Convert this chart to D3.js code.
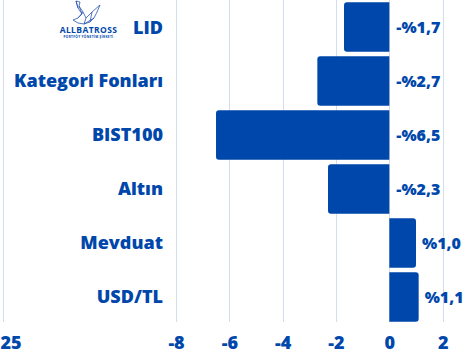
<!DOCTYPE html>
<html>
<head>
<meta charset="utf-8">
<script src="https://cdn.jsdelivr.net/npm/d3@7/dist/d3.min.js"></script>
<style>
  html, body { margin: 0; padding: 0; background: #ffffff; }
  svg { display: block; }
  text { font-family: "Open Sans", "DejaVu Sans", sans-serif; font-weight: 800; fill: #0047ab; }
</style>
</head>
<body>
<svg id="chart" width="472" height="356"></svg>
<script>
// Returns by asset class (%)
const categories = ["LID", "Kategori Fonları", "BIST100", "Altın", "Mevduat", "USD/TL"];
const returns = [-1.7, -2.7, -6.5, -2.3, 1.0, 1.1];
const valueLabels = ["-%1,7", "-%2,7", "-%6,5", "-%2,3", "%1,0", "%1,1"];
const tickValues = [-14.5, -8, -6, -4, -2, 0, 2];
const tickLabels = ["25", "-8", "-6", "-4", "-2", "0", "2"];

const BLUE = "#0047ab";
const GRID = "#d3ddf0";
const svg = d3.select("#chart");

const x = d3.scaleLinear().domain([-14.5, 2.5]).range([2.7, 456]);
const y = d3.scaleBand().domain(categories).range([0, 324]).paddingInner(0.083).paddingOuter(0.042);

// vertical gridlines
const gridBottom = 322;
svg.append("g").selectAll("line").data(tickValues).join("line")
  .attr("x1", d => Math.round(x(d)) + 0.5).attr("x2", d => Math.round(x(d)) + 0.5)
  .attr("y1", 0).attr("y2", gridBottom)
  .attr("stroke", GRID).attr("stroke-width", 1);

// x axis labels
const axis = d3.axisBottom(x).tickValues(tickValues).tickSize(0).tickPadding(0)
  .tickFormat((d, i) => tickLabels[i]);
const gAxis = svg.append("g").attr("transform", "translate(0,332)").call(axis);
gAxis.select(".domain").remove();
gAxis.selectAll("text")
  .attr("dy", "0.95em")
  .style("font-size", "18px")
  .style("font-family", "\"Open Sans\", sans-serif")
  .style("font-weight", "800")
  .attr("fill", BLUE);
// the leftmost label sits flush with the left edge
gAxis.selectAll(".tick").filter(d => d === tickValues[0]).select("text")
  .attr("text-anchor", "start").attr("x", -x(tickValues[0]));

// bars with the outer end rounded
function barPath(v, cat) {
  const r = 3;
  const x0 = x(0), x1 = x(v);
  const t = y(cat), b = t + y.bandwidth();
  if (v < 0) {
    return `M${x0},${t} L${x1 + r},${t} Q${x1},${t} ${x1},${t + r} L${x1},${b - r} Q${x1},${b} ${x1 + r},${b} L${x0},${b} Z`;
  }
  return `M${x0},${t} L${x1 - r},${t} Q${x1},${t} ${x1},${t + r} L${x1},${b - r} Q${x1},${b} ${x1 - r},${b} L${x0},${b} Z`;
}
const rows = categories.map((c, i) => ({ cat: c, v: returns[i], label: valueLabels[i] }));
svg.append("g").selectAll("path").data(rows).join("path")
  .attr("d", d => barPath(d.v, d.cat))
  .attr("fill", BLUE);

// category labels
svg.append("g").selectAll("text").data(rows).join("text")
  .attr("x", 163)
  .attr("y", d => y(d.cat) + y.bandwidth() / 2)
  .attr("dy", "0.36em")
  .attr("text-anchor", "end")
  .style("font-size", "18px")
  .text(d => d.cat);

// value labels
svg.append("g").selectAll("text").data(rows).join("text")
  .attr("x", d => d.v < 0 ? x(0) + 7 : x(d.v) + 6)
  .attr("y", d => y(d.cat) + y.bandwidth() / 2)
  .attr("dy", "0.36em")
  .attr("text-anchor", "start")
  .style("font-size", "16px")
  .text(d => d.label);

// brand mark
const logo = svg.append("g").attr("transform", "translate(62,0)");
const bird = logo.append("g").attr("fill", "none").attr("stroke", "#2a56b0").attr("stroke-width", 0.8).attr("stroke-linejoin", "round");
bird.append("path").attr("d", "M14,1 L18,2 L17,6 L21,12 L24,18 L30,12 L38,5 L35,12 L32,18 L28,22 L22,24 L16,23 L11,20 L16,18 L20,14 L16,8 Z");
bird.append("path").attr("d", "M17,6 L20,14 M24,18 L22,24 M30,12 L28,22 M21,12 L16,18 M32,18 L22,24 M14,1 L16,8");
logo.append("text").attr("x", 26.5).attr("y", 33).attr("text-anchor", "middle")
  .style("font-size", "8.5px").style("font-weight", "700").style("letter-spacing", "0.4px").attr("fill", "#1f4fb0").text("ALLBATROSS");
logo.append("text").attr("x", 26.5).attr("y", 37.5).attr("text-anchor", "middle")
  .style("font-size", "3.2px").style("font-weight", "700").style("letter-spacing", "0.3px").attr("fill", "#1f4fb0").text("PORTFÖY YÖNETİM ŞİRKETİ");
</script>
</body>
</html>
